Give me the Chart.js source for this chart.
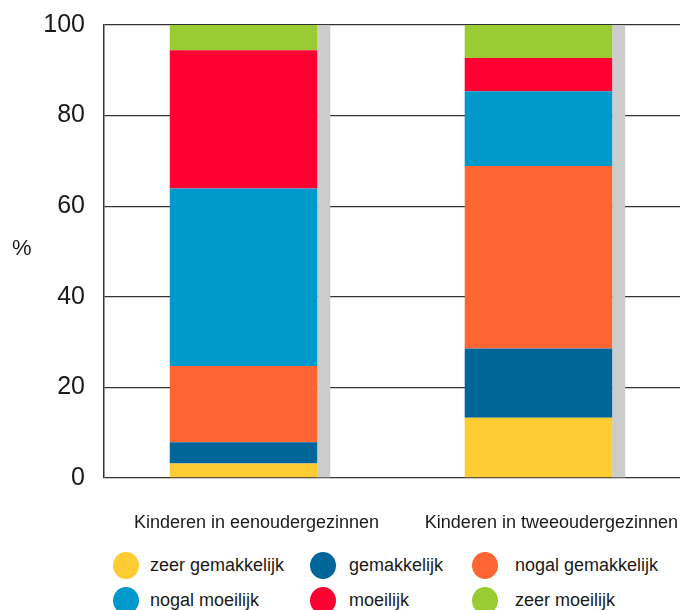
<!DOCTYPE html>
<html lang="nl">
<head>
<meta charset="utf-8">
<title>Kinderen in een- en tweeoudergezinnen</title>
<script src="https://cdn.jsdelivr.net/npm/chart.js@4/dist/chart.umd.min.js"></script>
<style>
  html, body { margin: 0; padding: 0; background: #fff; }
  #wrap { position: relative; width: 680px; height: 610px; overflow: hidden; font-family: "Liberation Sans", Arial, sans-serif; color: #1a1a1a; }
  #chart { position: absolute; left: 0; top: 0; }
  #unit { position: absolute; left: 12px; top: 235px; font-size: 22px; }
  .leg-dot { position: absolute; width: 26px; height: 27px; border-radius: 50%; }
  .leg-txt { position: absolute; font-size: 18px; line-height: 20px; white-space: nowrap; }
</style>
</head>
<body>
<div id="wrap">
  <canvas id="chart" width="680" height="540"></canvas>
  <div id="unit">%</div>
  <div id="legend"></div>
</div>
<script>
// categories (bars) and answer series, bottom to top
const categories = ["Kinderen in eenoudergezinnen", "Kinderen in tweeoudergezinnen"];
const seriesNames = ["zeer gemakkelijk", "gemakkelijk", "nogal gemakkelijk", "nogal moeilijk", "moeilijk", "zeer moeilijk"];

const zeerGemakkelijk = [3.2, 13.3];
const gemakkelijk = [4.7, 15.3];
const nogalGemakkelijk = [16.8, 40.3];
const nogalMoeilijk = [39.2, 16.5];
const moeilijk = [30.5, 7.3];
const zeerMoeilijk = [5.6, 7.3];

const yTicks = [0, 20, 40, 60, 80, 100];

const COLORS = ["#FFCC33", "#006699", "#FF6633", "#0099CC", "#FF0033", "#99CC33"];
const SHADOW = "#CCCCCC";
const INK = "#1a1a1a";
const FONT = "'Liberation Sans', Arial, sans-serif";

const seriesValues = [zeerGemakkelijk, gemakkelijk, nogalGemakkelijk, nogalMoeilijk, moeilijk, zeerMoeilijk];

// grey strip to the right of each stacked bar (drawn over the grid, under the bars)
const barShadow = {
  id: "barShadow",
  beforeDatasetsDraw(chart) {
    const ctx = chart.ctx;
    const first = chart.getDatasetMeta(0).data;
    ctx.save();
    ctx.fillStyle = SHADOW;
    first.forEach((bar, i) => {
      let top = bar.y;
      chart.data.datasets.forEach((ds, d) => {
        top = Math.min(top, chart.getDatasetMeta(d).data[i].y);
      });
      const right = bar.x + bar.width / 2;
      ctx.fillRect(right, top, 13, bar.base - top);
    });
    ctx.restore();
  },
};

// x is a linear axis so the two bars can sit off-centre like in the original;
// offset must be switched off or the bar defaults widen the range
new Chart(document.getElementById("chart"), {
  type: "bar",
  data: {
    datasets: seriesNames.map((name, s) => ({
      label: name,
      data: seriesValues[s].map((v, i) => ({ x: i + 1, y: v })),
      backgroundColor: COLORS[s],
      borderWidth: 0,
      barPercentage: 0.5,
      categoryPercentage: 1,
    })),
  },
  options: {
    responsive: false,
    animation: false,
    layout: { padding: { left: 0, right: 0, top: 25, bottom: 0 } },
    plugins: { legend: { display: false }, tooltip: { enabled: false } },
    scales: {
      x: {
        type: "linear",
        offset: false,
        stacked: true,
        min: 0.527,
        max: 2.48,
        afterBuildTicks: (axis) => { axis.ticks = categories.map((c, i) => ({ value: i + 1 })); },
        afterFit: (axis) => { axis.height = 62; axis.paddingLeft = 0; axis.paddingRight = 0; },
        grid: { display: false, offset: false },
        border: { display: false },
        ticks: {
          autoSkip: false,
          maxRotation: 0,
          padding: 26,
          labelOffset: 13,
          color: INK,
          font: { family: FONT, size: 18 },
          callback: (v, i) => categories[i],
        },
      },
      y: {
        stacked: true,
        min: 0,
        max: 100,
        afterBuildTicks: (axis) => { axis.ticks = yTicks.map((v) => ({ value: v })); },
        afterFit: (axis) => { axis.width = 104; axis.paddingTop = 0; axis.paddingBottom = 0; },
        grid: { color: "#333", lineWidth: 1.3, drawTicks: false },
        border: { display: true, color: "#333", width: 1.5 },
        ticks: { padding: 19, color: INK, font: { family: FONT, size: 25 } },
      },
    },
  },
  plugins: [barShadow],
});

// legend: three columns, two rows
const legendCols = [{ dot: 113, txt: 150 }, { dot: 310, txt: 349 }, { dot: 472, txt: 515 }];
const legendRows = [565, 600];
const legendEl = document.getElementById("legend");
seriesNames.forEach((name, s) => {
  const col = legendCols[s % 3];
  const cy = legendRows[Math.floor(s / 3)];
  const dot = document.createElement("div");
  dot.className = "leg-dot";
  dot.style.left = col.dot + "px";
  dot.style.top = (cy - 13) + "px";
  dot.style.background = COLORS[s];
  const txt = document.createElement("div");
  txt.className = "leg-txt";
  txt.style.left = col.txt + "px";
  txt.style.top = (cy - 10) + "px";
  txt.textContent = name;
  legendEl.appendChild(dot);
  legendEl.appendChild(txt);
});
</script>
</body>
</html>
